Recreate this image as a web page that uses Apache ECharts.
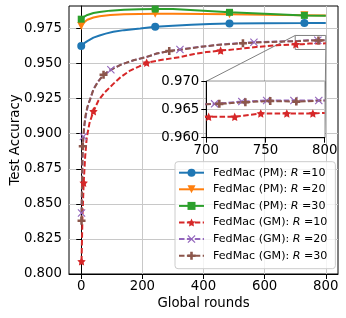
<!DOCTYPE html>
<html><head><meta charset="utf-8">
<script src="https://cdn.jsdelivr.net/npm/echarts@6/dist/echarts.min.js"></script>
<style>html,body{margin:0;padding:0;background:#fff}#c{width:346px;height:318px}</style>
</head><body><div id="c"></div>
<script>
// ---- data ----
const seriesNames = ['FedMac (PM): R =10','FedMac (PM): R =20','FedMac (PM): R =30','FedMac (GM): R =10','FedMac (GM): R =20','FedMac (GM): R =30'];
const xTickValues = [0, 200, 400, 600, 800];
const yTickValues = [0.800, 0.825, 0.850, 0.875, 0.900, 0.925, 0.950, 0.975];
const insetXTicks = [700, 750, 800];
const insetYTicks = [0.960, 0.965, 0.970];

const pm10X = [0, 10, 20, 40, 60, 80, 105, 140, 193, 242, 300, 360, 420, 485, 600, 730, 800];
const pm10Y = [0.9625, 0.9645, 0.9660, 0.9685, 0.9700, 0.9713, 0.9726, 0.9738, 0.9750, 0.9762, 0.9770, 0.9776, 0.9781, 0.9785, 0.9787, 0.9788, 0.9789];
const pm10Marks = [0, 242, 485, 730];

const pm20X = [0, 10, 20, 40, 60, 95, 140, 190, 242, 300, 400, 485, 600, 730, 800];
const pm20Y = [0.9768, 0.9795, 0.9812, 0.9828, 0.9837, 0.9846, 0.9851, 0.9853, 0.9854, 0.9854, 0.9853, 0.9852, 0.9848, 0.9844, 0.9842];
const pm20Marks = [0, 242, 485, 730];

const pm30X = [0, 10, 20, 40, 60, 95, 140, 190, 242, 300, 400, 485, 600, 730, 800];
const pm30Y = [0.9816, 0.9835, 0.9846, 0.9860, 0.9868, 0.9877, 0.9883, 0.9886, 0.9888, 0.9888, 0.9876, 0.9865, 0.9855, 0.9843, 0.9841];
const pm30Marks = [0, 242, 485, 730];

const gm10X = [1, 4, 8, 13, 18, 27, 40, 56, 75, 105, 130, 160, 190, 214, 260, 323, 370, 410, 456, 520, 572, 640, 680, 702, 724, 746, 768, 790, 800];
const gm10Y = [0.809, 0.840, 0.865, 0.884, 0.897, 0.9075, 0.916, 0.9235, 0.929, 0.9355, 0.9405, 0.945, 0.948, 0.9506, 0.9525, 0.9546, 0.9568, 0.9582, 0.9592, 0.9605, 0.9618, 0.9630, 0.9634, 0.9637, 0.9637, 0.9643, 0.9643, 0.9643, 0.9644];
const gm10Marks = [1, 8, 40, 214, 456, 702];
const gm10InsetMarks = [702, 724, 746, 768, 790];

const gm20X = [1, 4, 7, 11, 16, 22, 30, 40, 55, 73, 97, 130, 171, 214, 247, 290, 323, 400, 470, 565, 640, 690, 707, 730, 751, 774, 795, 800];
const gm20Y = [0.8435, 0.880, 0.898, 0.907, 0.914, 0.920, 0.925, 0.9318, 0.9372, 0.9420, 0.9456, 0.9492, 0.9523, 0.9547, 0.9571, 0.9589, 0.9600, 0.9622, 0.9638, 0.9652, 0.9657, 0.9659, 0.9660, 0.9664, 0.9666, 0.9666, 0.9666, 0.9666];
const gm20Marks = [1, 7, 97, 323, 565, 774];
const gm20InsetMarks = [707, 730, 751, 774, 795];

const gm30X = [1, 3, 5, 9, 14, 20, 29, 40, 55, 73, 97, 130, 171, 214, 247, 288, 330, 400, 460, 529, 600, 660, 711, 733, 754, 776, 800];
const gm30Y = [0.838, 0.870, 0.891, 0.904, 0.913, 0.919, 0.9245, 0.9315, 0.937, 0.942, 0.9455, 0.9492, 0.9523, 0.9547, 0.9571, 0.9589, 0.9600, 0.9622, 0.9635, 0.9645, 0.9652, 0.9657, 0.9660, 0.9663, 0.9665, 0.9664, 0.9666];
const gm30Marks = [1, 5, 73, 288, 529, 776];
const gm30InsetMarks = [711, 733, 754, 776];

// ---- styles ----
const FONT = 'DejaVu Sans';
const FS = 13.3;
const LFS = 11.1;
const colors = ['#1f77b4', '#ff7f0e', '#2ca02c', '#d62728', '#9467bd', '#8c564b'];
const STAR = 'path://M0,-10 L2.939,-4.045 L9.511,-3.090 L4.755,1.545 L5.878,8.090 L0,5 L-5.878,8.090 L-4.755,1.545 L-9.511,-3.090 L-2.939,-4.045 Z';
const XMARK = 'path://M-5,-4 L-4,-5 L0,-1 L4,-5 L5,-4 L1,0 L5,4 L4,5 L0,1 L-4,5 L-5,4 L-1,0 Z';
const PLUS = 'path://M-1.6,-5 L1.6,-5 L1.6,-1.6 L5,-1.6 L5,1.6 L1.6,1.6 L1.6,5 L-1.6,5 L-1.6,1.6 L-5,1.6 L-5,-1.6 L-1.6,-1.6 Z';
const symbols = ['circle', 'triangle', 'rect', STAR, XMARK, PLUS];
const symSizes = [8, 8, 7, 8.5, 8, 8];
const symRot = [0, 180, 0, 0, 0, 0];
const dashed = [false, false, false, true, true, true];

const all = [
  [pm10X, pm10Y, pm10Marks, null],
  [pm20X, pm20Y, pm20Marks, null],
  [pm30X, pm30Y, pm30Marks, null],
  [gm10X, gm10Y, gm10Marks, gm10InsetMarks],
  [gm20X, gm20Y, gm20Marks, gm20InsetMarks],
  [gm30X, gm30Y, gm30Marks, gm30InsetMarks]
];

function buildData(xs, ys, marks, sym) {
  return xs.map((x, i) => ({ value: [x, ys[i]], symbol: marks.indexOf(x) >= 0 ? sym : 'none' }));
}

const series = [];
all.forEach((s, k) => {
  const base = {
    name: seriesNames[k], type: 'line', symbol: symbols[k], symbolSize: symSizes[k], symbolRotate: symRot[k],
    showSymbol: true, color: colors[k],
    lineStyle: { width: 2, color: colors[k], type: dashed[k] ? [5.5, 2.4] : 'solid' },
    itemStyle: { color: colors[k], borderWidth: 0 },
    animation: false, silent: true
  };
  series.push(Object.assign({}, base, { xAxisIndex: 0, yAxisIndex: 0, z: 2, data: buildData(s[0], s[1], s[2], symbols[k]) }));
  if (s[3]) {
    series.push(Object.assign({}, base, { xAxisIndex: 1, yAxisIndex: 1, z: 7, data: buildData(s[0], s[1], s[3], symbols[k]) }));
  }
});

const axisText = { color: '#000', fontFamily: FONT, fontSize: FS };
const gridLine = { show: true, lineStyle: { color: '#c8c8c8', width: 1 } };
const blackLine = { show: true, lineStyle: { color: '#000', width: 1 } };

const chart = echarts.init(document.getElementById('c'), null, { renderer: 'canvas' });
chart.setOption({
  animation: false,
  backgroundColor: '#fff',
  grid: [
    { left: 69, top: 6, width: 269, height: 268, show: true, borderColor: '#000', borderWidth: 1, backgroundColor: 'transparent', z: 0, outerBoundsMode: 'none', containLabel: false },
    { left: 206.3, top: 81.3, width: 118.4, height: 56.4, show: true, borderColor: '#000', borderWidth: 1, backgroundColor: '#fff', z: 5, outerBoundsMode: 'none', containLabel: false }
  ],
  xAxis: [
    { type: 'value', gridIndex: 0, min: -40, max: 840,
      name: 'Global rounds', nameLocation: 'middle', nameGap: 23, nameMoveOverlap: false, nameTextStyle: axisText,
      axisLine: blackLine, axisTick: { show: true, length: 5, lineStyle: { color: '#000' }, customValues: xTickValues },
      axisLabel: Object.assign({ margin: 6, customValues: xTickValues }, axisText), splitLine: gridLine },
    { type: 'value', gridIndex: 1, min: 700, max: 800, interval: 50, z: 6,
      axisLine: blackLine, axisTick: { show: true, length: 5, lineStyle: { color: '#000' }, customValues: insetXTicks },
      axisLabel: Object.assign({ margin: 6, customValues: insetXTicks }, axisText), splitLine: gridLine }
  ],
  yAxis: [
    { type: 'value', gridIndex: 0, min: 0.8, max: 0.991,
      name: 'Test Accuracy', nameLocation: 'middle', nameGap: 47, nameMoveOverlap: false, nameTextStyle: axisText,
      axisLine: blackLine, axisTick: { show: true, length: 5, lineStyle: { color: '#000' }, customValues: yTickValues },
      axisLabel: Object.assign({ margin: 7, customValues: yTickValues, formatter: v => v.toFixed(3) }, axisText), splitLine: gridLine },
    { type: 'value', gridIndex: 1, min: 0.96, max: 0.97, interval: 0.005, z: 6,
      axisLine: blackLine, axisTick: { show: true, length: 5, lineStyle: { color: '#000' }, customValues: insetYTicks },
      axisLabel: Object.assign({ margin: 7, customValues: insetYTicks, formatter: v => v.toFixed(3) }, axisText), splitLine: gridLine }
  ],
  legend: {
    data: seriesNames, orient: 'vertical', left: 175, top: 161.7,
    padding: [5.5, 8, 7.5, 3], itemWidth: 25, itemHeight: 10, itemGap: 5.6,
    backgroundColor: 'rgba(255,255,255,0.8)', borderColor: '#cccccc', borderWidth: 1, borderRadius: 3,
    formatter: name => { const p = name.split(': R '); return '{n|' + p[0] + ': }{i|R}{n| ' + p[1] + '}'; },
    textStyle: { padding: [0, 0, 0, 4], rich: {
      n: { fontFamily: FONT, fontSize: LFS, color: '#000' },
      i: { fontFamily: FONT, fontSize: LFS, color: '#000', fontStyle: 'italic' } } },
    z: 20
  },
  series: series
});

// inset indicator: rectangle + connectors, positioned through the axes' scales
const a = chart.convertToPixel({ xAxisIndex: 0, yAxisIndex: 0 }, [700, 0.970]);
const b = chart.convertToPixel({ xAxisIndex: 0, yAxisIndex: 0 }, [800, 0.960]);
const ia = chart.convertToPixel({ xAxisIndex: 1, yAxisIndex: 1 }, [700, 0.970]);
const ib = chart.convertToPixel({ xAxisIndex: 1, yAxisIndex: 1 }, [800, 0.960]);
const grey = { stroke: '#808080', lineWidth: 1, fill: null };
chart.setOption({
  graphic: [
    { type: 'rect', z: 1, shape: { x: a[0], y: a[1], width: b[0] - a[0], height: b[1] - a[1] }, style: grey, silent: true },
    { type: 'line', z: 1, shape: { x1: a[0], y1: a[1], x2: ia[0], y2: ia[1] }, style: grey, silent: true },
    { type: 'line', z: 1, shape: { x1: b[0], y1: b[1], x2: ib[0], y2: ib[1] }, style: grey, silent: true }
  ]
});
</script>
</body></html>
